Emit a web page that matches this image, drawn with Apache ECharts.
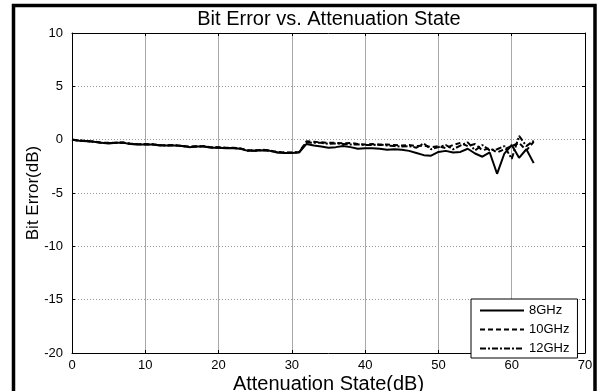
<!DOCTYPE html>
<html lang="en">
<head>
    <meta charset="UTF-8">
    <title>Bit Error vs. Attenuation State</title>
    <script src="https://cdn.jsdelivr.net/npm/echarts@6/dist/echarts.min.js"></script>
    <style>
        html, body { margin: 0; padding: 0; background: #fff; }
    </style>
</head>
<body>
<div id="main" style="width: 600px;height:391px;"></div>

<script>
    // attenuation states (dB)
    var states = [0, 1, 2, 3, 4, 5, 6, 7, 8, 9, 10, 11, 12, 13, 14, 15,
        16, 17, 18, 19, 20, 21, 22, 23, 24, 25, 26, 27, 28, 29, 30, 31,
        32, 33, 34, 35, 36, 37, 38, 39, 40, 41, 42, 43, 44, 45, 46, 47,
        48, 49, 50, 51, 52, 53, 54, 55, 56, 57, 58, 59, 60, 61, 62, 63];

    // bit error (dB)
    var err8 = [0.0, -0.1, -0.15, -0.2, -0.3, -0.35, -0.3, -0.3, -0.4, -0.45, -0.45, -0.45, -0.55, -0.55, -0.55, -0.6,
        -0.7, -0.65, -0.65, -0.75, -0.75, -0.8, -0.8, -0.85, -1.05, -1.05, -1.0, -1.05, -1.2, -1.25, -1.25, -1.2,
        -0.4, -0.55, -0.65, -0.75, -0.7, -0.6, -0.7, -0.85, -0.8, -0.8, -0.85, -0.95, -0.9, -0.95, -1.05, -1.25,
        -1.45, -1.5, -1.15, -1.05, -1.2, -1.15, -0.85, -1.3, -1.6, -1.2, -3.2, -1.3, -0.5, -1.7, -0.9, -2.2];
    var err10 = [0.0, -0.08, -0.12, -0.18, -0.28, -0.3, -0.28, -0.27, -0.38, -0.42, -0.42, -0.43, -0.5, -0.52, -0.5, -0.58,
        -0.65, -0.62, -0.6, -0.72, -0.72, -0.75, -0.76, -0.82, -1.0, -1.0, -0.95, -1.02, -1.15, -1.2, -1.2, -1.15,
        -0.15, -0.2, -0.25, -0.3, -0.3, -0.35, -0.3, -0.4, -0.45, -0.4, -0.5, -0.45, -0.5, -0.55, -0.5, -0.6,
        -0.55, -0.7, -0.6, -0.8, -0.5, -0.3, -0.6, -0.4, -1.0, -0.8, -1.2, -0.9, -0.6, -0.3, -1.0, -0.2];
    var err12 = [0.02, -0.1, -0.13, -0.2, -0.3, -0.32, -0.3, -0.28, -0.4, -0.43, -0.44, -0.45, -0.52, -0.54, -0.53, -0.6,
        -0.68, -0.63, -0.63, -0.74, -0.74, -0.78, -0.78, -0.84, -1.02, -1.03, -0.98, -1.03, -1.18, -1.22, -1.22, -1.18,
        -0.25, -0.3, -0.3, -0.4, -0.35, -0.4, -0.45, -0.45, -0.5, -0.5, -0.45, -0.55, -0.6, -0.65, -0.6, -0.75,
        -0.35, -0.9, -0.7, -0.5, -0.9, -0.55, -0.25, -1.0, -0.5, -1.0, -0.9, -0.6, -1.8, 0.35, -0.6, -0.1];

    var seriesNames = ['8GHz', '10GHz', '12GHz'];
    var dashes = ['solid', [5, 3], [6, 2, 2, 2]];

    var font = 'Arial, "Liberation Sans", sans-serif';
    var myChart = echarts.init(document.getElementById('main'));

    function pairs(ys) {
        return states.map(function (x, i) { return [x, ys[i]]; });
    }

    // top / right frame with inside ticks, like the matlab box
    var mirrorAxis = {
        axisLine: { show: true, onZero: false, lineStyle: { color: '#000', width: 1 } },
        axisTick: { show: true, inside: true, length: 3, lineStyle: { color: '#000' } },
        axisLabel: { show: false },
        splitLine: { show: false }
    };

    var option = {
        animation: false,
        backgroundColor: '#fff',
        title: {
            text: 'Bit Error vs. Attenuation State',
            left: 324,
            top: 4,
            textAlign: 'center',
            textStyle: { fontFamily: font, fontSize: 20, fontWeight: 'normal', color: '#000' }
        },
        legend: {
            orient: 'vertical',
            left: 471,
            top: 299,
            width: 114,
            data: seriesNames,
            itemWidth: 44,
            itemHeight: 12,
            itemGap: 6,
            padding: [5, 8, 3, 8],
            backgroundColor: '#fff',
            borderColor: '#000',
            borderWidth: 1,
            borderRadius: 0,
            itemStyle: { opacity: 0 },
            textStyle: { fontFamily: font, fontSize: 13, color: '#000' }
        },
        grid: { left: 72, right: 15, top: 33, bottom: 38, outerBoundsMode: 'none' },
        graphic: [{
            type: 'rect',
            shape: { x: 13.5, y: 5.5, width: 581.5, height: 400 },
            style: { fill: 'none', stroke: '#000', lineWidth: 3.5 },
            silent: true
        }],
        xAxis: [{
            type: 'value',
            min: 0, max: 70, interval: 10,
            name: 'Attenuation State(dB)',
            nameLocation: 'middle',
            nameGap: 21,
            nameMoveOverlap: false,
            nameTextStyle: { fontFamily: font, fontSize: 20, color: '#000' },
            axisLine: { show: true, onZero: false, lineStyle: { color: '#000', width: 1 } },
            axisTick: { show: true, inside: true, length: 3, lineStyle: { color: '#000' } },
            axisLabel: { fontFamily: font, fontSize: 13, color: '#000', margin: 6 },
            splitLine: { show: true, lineStyle: { color: '#a8a8a8', width: 1, type: 'solid' } }
        }, echarts.util.merge({ type: 'value', position: 'top', min: 0, max: 70, interval: 10 }, mirrorAxis)],
        yAxis: [{
            type: 'value',
            min: -20, max: 10, interval: 5,
            name: 'Bit Error(dB)',
            nameLocation: 'middle',
            nameGap: 30,
            nameMoveOverlap: false,
            nameTextStyle: { fontFamily: font, fontSize: 17, color: '#000' },
            axisLine: { show: true, onZero: false, lineStyle: { color: '#000', width: 1 } },
            axisTick: { show: true, inside: true, length: 3, lineStyle: { color: '#000' } },
            axisLabel: { fontFamily: font, fontSize: 13, color: '#000', margin: 9 },
            splitLine: { show: true, lineStyle: { color: '#9a9a9a', width: 1, type: [1, 2] } }
        }, echarts.util.merge({ type: 'value', position: 'right', min: -20, max: 10, interval: 5 }, mirrorAxis)],
        series: []
    };

    [err8, err10, err12].forEach(function (ys, k) {
        option.series.push({
            name: seriesNames[k],
            type: 'line',
            data: pairs(ys),
            symbol: 'none',
            color: '#000',
            z: 3 - k,
            lineStyle: { color: '#000', width: 2, type: dashes[k] }
        });
    });

    myChart.setOption(option);
</script>
</body>
</html>
